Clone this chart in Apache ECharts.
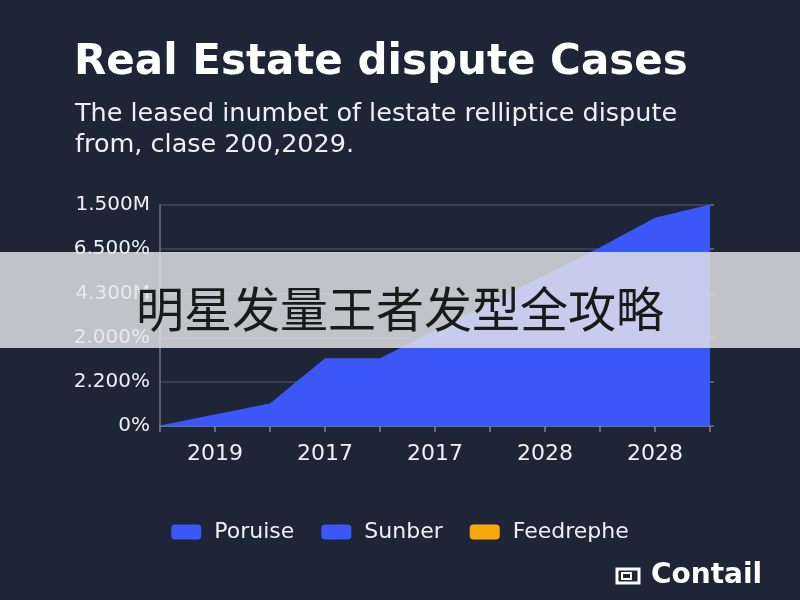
<!DOCTYPE html>
<html><head><meta charset="utf-8">
<script src="https://cdn.jsdelivr.net/npm/echarts@6/dist/echarts.min.js"></script>
<style>html,body{margin:0;padding:0;background:#1d2536;}#c{width:800px;height:600px;}</style>
</head><body><div id="c"></div>
<script>
const titleText = 'Real Estate dispute Cases';
const subtitleText = 'The leased inumbet of lestate relliptice dispute\nfrom, clase 200,2029.';
const yTickLabels = ['0%', '2.200%', '2.000%', '4.300M', '6.500%', '1.500M'];
const xTickLabels = ['2019', '2017', '2017', '2028', '2028'];
const xPositions = [0, 2, 3, 4, 8, 9, 10];
const seriesValues = [0, 0.5, 1.52, 1.52, 4.03, 4.7, 5.0];
const legendNames = ['Poruise', 'Sunber', 'Feedrephe'];
const legendColors = ['#3b57f7', '#3b57f7', '#f7a70c'];
const bannerText = '明星发量王者发型全攻略';
const logoText = 'Contail';

const chart = echarts.init(document.getElementById('c'));
const areaData = xPositions.map((x, i) => [x, seriesValues[i]]);
const series = [
  {
    name: legendNames[0], type: 'line', data: areaData, symbol: 'none',
    lineStyle: { color: legendColors[0], width: 1 },
    itemStyle: { color: legendColors[0] },
    areaStyle: { color: legendColors[0], opacity: 1 }, z: 2
  },
  { name: legendNames[1], type: 'line', data: [], itemStyle: { color: legendColors[1] } },
  { name: legendNames[2], type: 'line', data: [], itemStyle: { color: legendColors[2] } }
];
chart.setOption({
  backgroundColor: '#1d2536',
  animation: false,
  title: [
    { text: titleText, left: 69, top: 37, textStyle: { color: '#ffffff', fontSize: 42, fontWeight: 'bold', fontFamily: 'DejaVu Sans' } },
    { text: subtitleText, left: 70, top: 94, textStyle: { color: '#eef0f3', fontSize: 25.5, fontWeight: 'normal', fontFamily: 'DejaVu Sans', lineHeight: 31 } }
  ],
  grid: { left: 160, right: 90, top: 205, bottom: 174 },
  xAxis: {
    type: 'value', min: 0, max: 10, interval: 1,
    axisLine: { lineStyle: { color: '#7a8394', width: 1.5 } },
    axisTick: { show: true, length: 6, lineStyle: { color: '#7a8394', width: 1.5 } },
    splitLine: { show: false },
    axisLabel: {
      color: '#eef0f3', fontSize: 22, fontFamily: 'DejaVu Sans', margin: 17,
      formatter: v => (v % 2 === 1 ? xTickLabels[(v - 1) / 2] : '')
    }
  },
  yAxis: [
    {
      type: 'value', min: 0, max: 5, interval: 1,
      axisLine: { show: true, lineStyle: { color: '#6b7485', width: 1.5 } },
      axisTick: { show: false },
      splitLine: { lineStyle: { color: '#414b5c', width: 1.5 } },
      axisLabel: { color: '#eef0f3', fontSize: 20, fontFamily: 'DejaVu Sans', margin: 10, formatter: v => yTickLabels[v] }
    },
    {
      type: 'value', min: 0, max: 5, interval: 1, position: 'right',
      axisLine: { show: false },
      axisTick: { show: true, length: 4, lineStyle: { color: '#6b7485', width: 1.5 } },
      splitLine: { show: false },
      axisLabel: { show: false }
    }
  ],
  legend: {
    data: legendNames, bottom: 52, left: 'center', itemWidth: 30, itemHeight: 15, itemGap: 27,
    icon: 'roundRect',
    textStyle: { color: '#eef0f3', fontSize: 22, fontFamily: 'DejaVu Sans', padding: [0, 0, 0, 8] }
  },
  series: series,
  graphic: [
    { type: 'rect', z: 100, shape: { x: 0, y: 252, width: 800, height: 96 }, style: { fill: 'rgba(230,231,234,0.82)' } },
    { type: 'text', z: 101, x: 400, y: 309, style: { text: bannerText, fill: '#1a1a1a', font: '48px "Noto Sans CJK SC"', textAlign: 'center', textVerticalAlign: 'middle' } },
    { type: 'rect', z: 100, shape: { x: 617, y: 569, width: 22, height: 14 }, style: { fill: 'none', stroke: '#ffffff', lineWidth: 3 } },
    { type: 'rect', z: 100, shape: { x: 622, y: 573, width: 9, height: 6 }, style: { fill: 'none', stroke: '#ffffff', lineWidth: 2 } },
    { type: 'text', z: 100, x: 651, y: 576, style: { text: logoText, fill: '#ffffff', font: 'bold 28px "DejaVu Sans"', textVerticalAlign: 'middle' } }
  ]
});
</script></body></html>
